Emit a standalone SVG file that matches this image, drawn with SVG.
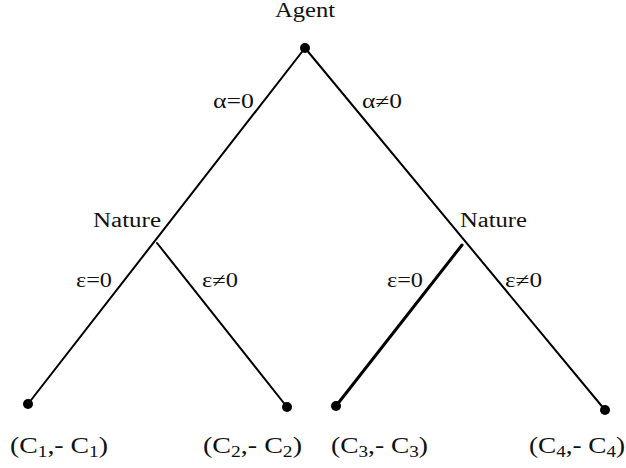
<svg xmlns="http://www.w3.org/2000/svg" width="626" height="468" viewBox="0 0 626 468">
<style>
text{font-family:"Liberation Serif","Times New Roman",serif;fill:#111;}
.lbl{font-size:20px;}
.pay{font-size:23px;}
.e{stroke:#000;stroke-width:2;fill:none;stroke-linecap:round;}
.dot{fill:#000;}
</style>
<rect width="626" height="468" fill="#fff"/>
<g id="connectors">
<line class="e" x1="305" y1="48" x2="28" y2="404"/>
<line class="e" x1="305" y1="48" x2="605" y2="410"/>
<line class="e" x1="157" y1="243" x2="287" y2="407"/>
<line class="e" x1="462" y1="245" x2="336" y2="406" style="stroke-width:3"/>
<text class="lbl" font-family="Liberation Serif, serif" x="213" y="108" textLength="41" lengthAdjust="spacingAndGlyphs">α=0</text>
<text class="lbl" font-family="Liberation Serif, serif" x="362" y="108" textLength="40" lengthAdjust="spacingAndGlyphs">α≠0</text>
<text class="lbl" font-family="Liberation Serif, serif" x="76" y="287" textLength="36" lengthAdjust="spacingAndGlyphs">ε=0</text>
<text class="lbl" font-family="Liberation Serif, serif" x="202" y="287" textLength="36" lengthAdjust="spacingAndGlyphs">ε≠0</text>
<text class="lbl" font-family="Liberation Serif, serif" x="387" y="287" textLength="36" lengthAdjust="spacingAndGlyphs">ε=0</text>
<text class="lbl" font-family="Liberation Serif, serif" x="505" y="287" textLength="37" lengthAdjust="spacingAndGlyphs">ε≠0</text>
</g>
<g id="agent">
<circle class="dot" cx="305" cy="48" r="5"/>
<text class="lbl" font-family="Liberation Serif, serif" x="275" y="17" textLength="60" lengthAdjust="spacingAndGlyphs">Agent</text>
</g>
<g id="nature-left">
<text class="lbl" font-family="Liberation Serif, serif" x="93" y="227" textLength="68" lengthAdjust="spacingAndGlyphs">Nature</text>
</g>
<g id="nature-right">
<text class="lbl" font-family="Liberation Serif, serif" x="460" y="227" textLength="67" lengthAdjust="spacingAndGlyphs">Nature</text>
</g>
<g id="leaf1">
<circle class="dot" cx="28" cy="404" r="5"/>
<text class="pay" font-family="Liberation Serif, serif" x="10" y="453" textLength="98" lengthAdjust="spacingAndGlyphs">(C<tspan font-size="16" dy="4">1</tspan><tspan dy="-4">,- C</tspan><tspan font-size="16" dy="4">1</tspan><tspan dy="-4">)</tspan></text>
</g>
<g id="leaf2">
<circle class="dot" cx="287" cy="407" r="5"/>
<text class="pay" font-family="Liberation Serif, serif" x="203" y="453" textLength="99" lengthAdjust="spacingAndGlyphs">(C<tspan font-size="16" dy="4">2</tspan><tspan dy="-4">,- C</tspan><tspan font-size="16" dy="4">2</tspan><tspan dy="-4">)</tspan></text>
</g>
<g id="leaf3">
<circle class="dot" cx="336" cy="406" r="5"/>
<text class="pay" font-family="Liberation Serif, serif" x="331" y="453" textLength="97" lengthAdjust="spacingAndGlyphs">(C<tspan font-size="16" dy="4">3</tspan><tspan dy="-4">,- C</tspan><tspan font-size="16" dy="4">3</tspan><tspan dy="-4">)</tspan></text>
</g>
<g id="leaf4">
<circle class="dot" cx="605" cy="410" r="5"/>
<text class="pay" font-family="Liberation Serif, serif" x="529" y="453" textLength="96" lengthAdjust="spacingAndGlyphs">(C<tspan font-size="16" dy="4">4</tspan><tspan dy="-4">,- C</tspan><tspan font-size="16" dy="4">4</tspan><tspan dy="-4">)</tspan></text>
</g>
</svg>
